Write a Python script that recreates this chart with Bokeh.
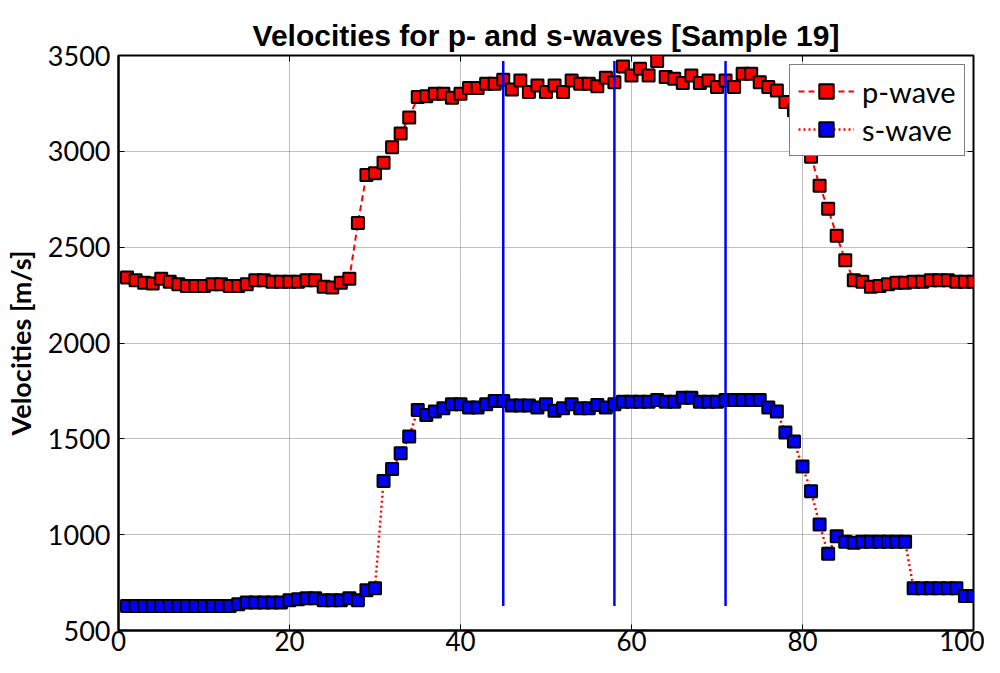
from bokeh.plotting import figure
from bokeh.models import LinearAxis, Legend, LegendItem, FixedTicker, Range1d
from bokeh.embed import file_html
from bokeh.resources import INLINE

sample = list(range(1, 101))

p_wave = [2342, 2328, 2314, 2311, 2335, 2320, 2306, 2297, 2297, 2297,
          2306, 2306, 2297, 2297, 2306, 2328, 2328, 2320, 2320, 2320,
          2320, 2328, 2328, 2294, 2290, 2314, 2335, 2626, 2877, 2886,
          2941, 3021, 3093, 3176, 3283, 3287, 3301, 3301, 3280, 3301,
          3330, 3330, 3353, 3353, 3374, 3322, 3370, 3310, 3344, 3310,
          3344, 3310, 3370, 3353, 3353, 3339, 3384, 3361, 3443, 3396,
          3431, 3396, 3471, 3388, 3379, 3356, 3396, 3356, 3370, 3336,
          3370, 3336, 3405, 3405, 3361, 3336, 3318, 3258, 3214, 3120,
          2972, 2821, 2700, 2560, 2432, 2328, 2320, 2294, 2297, 2306,
          2314, 2314, 2320, 2320, 2328, 2328, 2328, 2320, 2320, 2320]

s_wave = [628, 628, 628, 628, 628, 628, 628, 628, 628, 628,
          628, 628, 628, 637, 646, 646, 646, 646, 646, 658,
          663, 668, 668, 658, 658, 658, 668, 658, 710, 720,
          1280, 1343, 1425, 1512, 1651, 1625, 1642, 1660, 1680, 1680,
          1663, 1663, 1680, 1698, 1698, 1674, 1674, 1674, 1663, 1680,
          1646, 1660, 1680, 1660, 1660, 1677, 1663, 1680, 1694, 1694,
          1694, 1694, 1703, 1694, 1694, 1715, 1715, 1694, 1694, 1694,
          1703, 1703, 1703, 1703, 1703, 1663, 1642, 1533, 1486, 1356,
          1226, 1053, 900, 992, 963, 958, 963, 963, 963, 963,
          963, 963, 720, 720, 720, 720, 720, 720, 680, 680]

marker_x = [45, 58, 71]
x_ticks = [0, 20, 40, 60, 80, 100]
y_ticks = [500, 1000, 1500, 2000, 2500, 3000, 3500]

TICK_FONT = "Lato"

p = figure(width=984, height=657, output_backend="svg", toolbar_location=None,
           x_range=Range1d(0, 100), y_range=Range1d(500, 3500),
           min_border_left=109, min_border_right=11, min_border_top=55,
           min_border_bottom=27, background_fill_color="white",
           border_fill_color="white")

p.title.text = "Velocities for p- and s-waves [Sample 19]"
p.title.align = "center"
p.title.offset = -8
p.title.text_font = "Liberation Sans"
p.title.text_font_style = "bold"
p.title.text_font_size = "30px"
p.title.text_line_height = 0.7
p.title.text_color = "black"
p.title.standoff = 8

p.outline_line_color = "black"
p.outline_line_width = 2
p.outline_line_alpha = 1

xax = p.xaxis[0]
yax = p.yaxis[0]
for ax in (xax, yax):
    ax.major_tick_in = 6
    ax.major_tick_out = 0
    ax.minor_tick_line_color = None
    ax.axis_line_width = 2
    ax.axis_line_color = "black"
    ax.major_tick_line_color = "black"
    ax.major_tick_line_width = 1
    ax.major_label_text_font = TICK_FONT
    ax.major_label_text_color = "black"
xax.major_label_text_font_size = "26px"
yax.major_label_text_font_size = "27px"

xax.ticker = FixedTicker(ticks=x_ticks)
yax.ticker = FixedTicker(ticks=y_ticks)
xax.major_label_standoff = 0
xax.major_label_text_line_height = 1.0
yax.major_label_standoff = 8

yax.axis_label = "Velocities [m/s]"
yax.axis_label_text_font = TICK_FONT
yax.axis_label_text_font_style = "bold"
yax.axis_label_text_font_size = "27px"
yax.axis_label_text_color = "black"
yax.axis_label_standoff = 8

p.xgrid.ticker = FixedTicker(ticks=x_ticks)
p.ygrid.ticker = FixedTicker(ticks=y_ticks)
for g in (p.xgrid[0], p.ygrid[0]):
    g.grid_line_color = "#808080"
    g.grid_line_dash = "1 1"
    g.grid_line_width = 1

# box ticks on top and right (no labels)
top_ax = LinearAxis(ticker=FixedTicker(ticks=x_ticks),
                    major_label_overrides={t: "" for t in x_ticks},
                    major_label_standoff=10, major_tick_in=6, major_tick_out=0,
                    minor_tick_line_color=None, axis_line_color=None)
right_ax = LinearAxis(ticker=FixedTicker(ticks=y_ticks),
                      major_label_overrides={t: "" for t in y_ticks},
                      major_label_standoff=0, major_tick_in=6, major_tick_out=0,
                      minor_tick_line_color=None, axis_line_color=None)
p.add_layout(top_ax, "above")
p.add_layout(right_ax, "right")

lp = p.line(sample, p_wave, line_color="red", line_width=2, line_dash="6 4")
sp = p.scatter(sample, p_wave, marker="square", size=12, fill_color="red",
               line_color="black", line_width=2)
ls = p.line(sample, s_wave, line_color="red", line_width=2.5, line_dash="2 3")
ss = p.scatter(sample, s_wave, marker="square", size=12, fill_color="blue",
               line_color="black", line_width=2)

n = len(marker_x)
p.segment(x0=marker_x, x1=marker_x, y0=[min(s_wave)] * n, y1=[max(p_wave)] * n,
          line_color="blue", line_width=2.5)

legend = Legend(items=[LegendItem(label="p-wave", renderers=[lp, sp]),
                       LegendItem(label="s-wave", renderers=[ls, ss])],
                location=(671, 474))
legend.border_line_color = "black"
legend.border_line_width = 1.5
legend.background_fill_color = "white"
legend.background_fill_alpha = 1
legend.padding = 8
legend.spacing = 2
legend.margin = 0
legend.glyph_width = 56
legend.glyph_height = 36
legend.label_height = 36
legend.label_standoff = 8
legend.label_text_font = TICK_FONT
legend.label_text_font_size = "29px"
legend.label_text_color = "black"
p.add_layout(legend)

open("out.html", "w").write(file_html(p, INLINE))
